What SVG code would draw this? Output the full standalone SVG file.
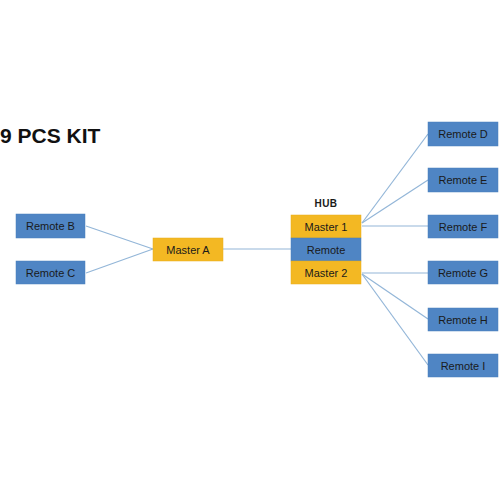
<svg xmlns="http://www.w3.org/2000/svg" width="500" height="500" viewBox="0 0 500 500">
<style>
.r{fill:#4f85c4;stroke:#4a7fbd;stroke-width:0.5}
.m{fill:#f3b823;stroke:#e8ad1a;stroke-width:0.5}
text{font-family:"Liberation Sans",Arial,sans-serif;font-size:11px;fill:#1a1a1a;text-anchor:middle;dominant-baseline:central}
.c line{stroke:#93b6d8;stroke-width:1.2}
</style>
<rect width="500" height="500" fill="#fff"/>
<text x="0" y="135" style="font-size:21px;font-weight:bold;text-anchor:start;fill:#111">9 PCS KIT</text>
<g class="c">
<line x1="86" y1="226" x2="153" y2="249"/>
<line x1="86" y1="273" x2="153" y2="249"/>
<line x1="223" y1="249" x2="291" y2="249"/>
<line x1="362" y1="223" x2="428" y2="134"/>
<line x1="362" y1="223" x2="428" y2="180"/>
<line x1="362" y1="226" x2="428" y2="226"/>
<line x1="362" y1="273" x2="428" y2="273"/>
<line x1="362" y1="274" x2="428" y2="319"/>
<line x1="362" y1="274" x2="428" y2="365"/>
</g>
<g id="remoteB"><rect class="r" x="16" y="214" width="69" height="24"/><text x="50.5" y="226">Remote B</text></g>
<g id="remoteC"><rect class="r" x="16" y="261" width="69" height="23"/><text x="50.5" y="272.5">Remote C</text></g>
<g id="masterA"><rect class="m" x="153" y="238" width="70" height="23"/><text x="188" y="249.5">Master A</text></g>
<g id="hub">
<text x="326" y="203" style="font-size:10px;font-weight:bold;letter-spacing:0.5px">HUB</text>
<rect class="m" x="291" y="215" width="70" height="23"/><text x="326" y="226.5">Master 1</text>
<rect class="r" x="291" y="238" width="70" height="23"/><text x="326" y="249.5">Remote</text>
<rect class="m" x="291" y="261" width="70" height="23"/><text x="326" y="272.5">Master 2</text>
</g>
<g id="remoteD"><rect class="r" x="428" y="122" width="70" height="24"/><text x="463" y="134">Remote D</text></g>
<g id="remoteE"><rect class="r" x="428" y="168" width="70" height="24"/><text x="463" y="180">Remote E</text></g>
<g id="remoteF"><rect class="r" x="428" y="215" width="70" height="23"/><text x="463" y="226.5">Remote F</text></g>
<g id="remoteG"><rect class="r" x="428" y="261" width="70" height="23"/><text x="463" y="272.5">Remote G</text></g>
<g id="remoteH"><rect class="r" x="428" y="308" width="70" height="23"/><text x="463" y="319.5">Remote H</text></g>
<g id="remoteI"><rect class="r" x="428" y="354" width="70" height="23"/><text x="463" y="365.5">Remote I</text></g>
</svg>
